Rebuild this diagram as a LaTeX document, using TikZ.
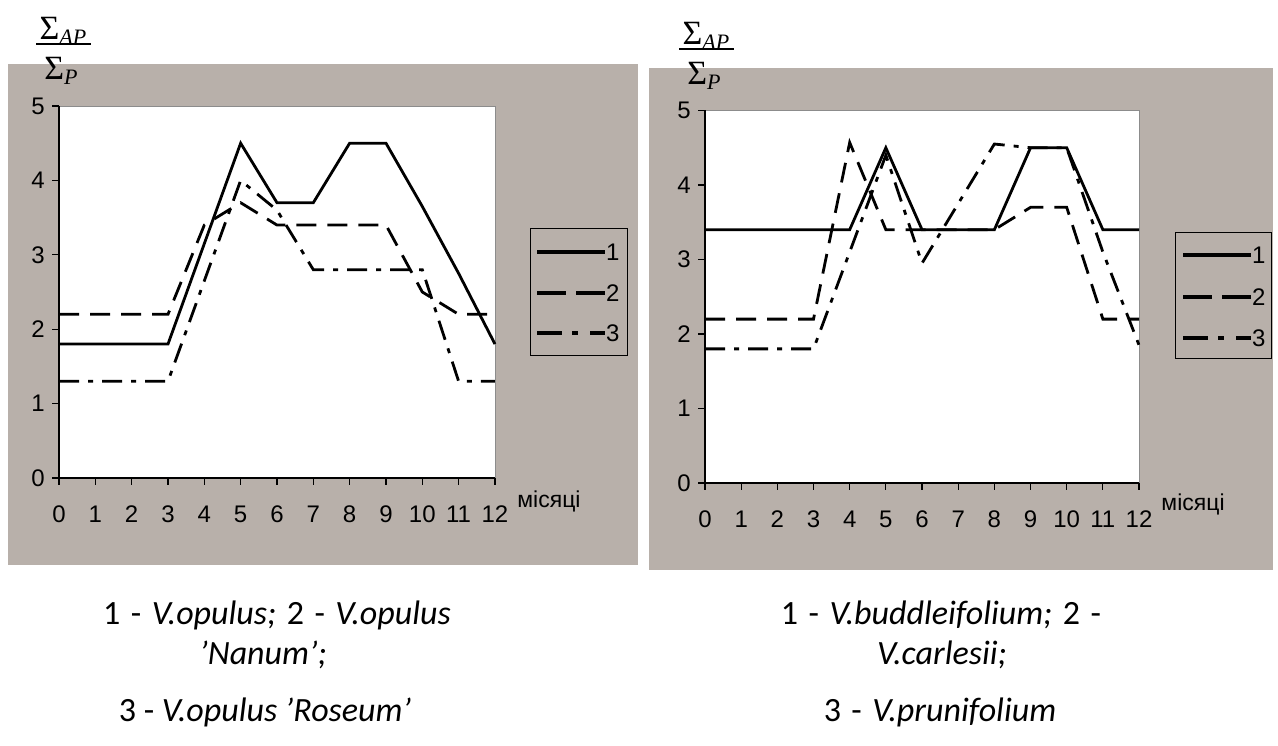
\documentclass[tikz,border=0pt]{standalone}
\usepackage{fontspec}
\setmainfont{Liberation Sans}
\newfontfamily\capfont{Carlito}
\newfontfamily\sigfont{Liberation Serif}
\definecolor{panel}{RGB}{184,176,170}
\newcommand\capsetup{\capfont\fontsize{34}{40}\selectfont\spaceskip=10.5pt\relax}
\newcommand\bigsig[1]{{\sigfont\fontsize{34}{34}\selectfont Σ}{\sigfont\itshape\fontsize{22}{22}\selectfont\raisebox{-5pt}{#1}}}
\begin{document}
\begin{tikzpicture}[x=1pt,y=-1pt,
  serA/.style={line width=2.8pt, line join=miter},
  serB/.style={line width=2.8pt, dash pattern=on 20pt off 11pt},
  serC/.style={line width=2.8pt, dash pattern=on 20pt off 9pt on 5pt off 9pt},
  lgA/.style={line width=3.4pt},
  lgB/.style={line width=3.4pt, dash pattern=on 29pt off 10pt},
  lgC/.style={line width=3.4pt, dash pattern=on 25pt off 10pt on 6pt off 12pt},
  lbl/.style={inner sep=0pt, font=\fontsize{24}{24}\selectfont},
  mlbl/.style={inner sep=0pt, font=\fontsize{23}{23}\selectfont},
  captext/.style={inner sep=0pt, font=\capsetup},
  sigma/.style={inner sep=0pt},
  barln/.style={line width=1.4pt},
  axisln/.style={line width=1.6pt},
  tickln/.style={line width=1.2pt},
  frameln/.style={line width=0.8pt, black!45},
  legbox/.style={draw, line width=0.9pt, inner sep=0pt, anchor=north west}
]
\useasboundingbox (0,0) rectangle (1278,746);
\fill[white] (0,0) rectangle (1278,746);
% panels
\fill[panel] (8,64) rectangle (638,565);
\fill[panel] (649,68) rectangle (1273,570);

% ---------- left chart ----------
\begin{scope}[shift={(59,478)}, x=36.33pt, y=74.4pt]
  \fill[white] (0,0) rectangle (12,5);
  \draw[frameln] (0,5) -- (12,5) -- (12,0);
  \draw[axisln] (0,5) -- (0,0) -- (12,0);
  \foreach \i in {0,...,12} {
    \draw[tickln] (\i,0) -- ++(0,-7pt);
    \node[lbl] (xl\i) at (\i,0) [yshift=-36pt] {\i};
  }
  \foreach \k in {0,...,5} {
    \draw[tickln] (0,\k) -- ++(-7pt,0);
    \node[lbl, anchor=east] (yl\k) at (0,\k) [xshift=-14pt] {\k};
  }
  \node[mlbl] (monthL) at (12,0) [xshift=54pt, yshift=-23pt] {місяці};
  \draw[serA] plot coordinates {(0,1.8)(1,1.8)(2,1.8)(3,1.8)(4,3.15)(5,4.5)(6,3.7)(7,3.7)(8,4.5)(9,4.5)(10,3.65)(11,2.75)(12,1.8)};
  \draw[serB] plot coordinates {(0,2.2)(1,2.2)(2,2.2)(3,2.2)(4,3.4)(5,3.7)(6,3.4)(7,3.4)(8,3.4)(9,3.4)(10,2.5)(11,2.2)(12,2.2)};
  \draw[serC] plot coordinates {(0,1.3)(1,1.3)(2,1.3)(3,1.3)(4,2.65)(5,4.0)(6,3.6)(7,2.8)(8,2.8)(9,2.8)(10,2.8)(11,1.3)(12,1.3)};
\end{scope}
% fraction label left
\node[sigma] (numL) at (63,31) {\bigsig{AP}};
\node[sigma] (denL) at (61,71) {\bigsig{P}};
\coordinate (barLa) at (36,44);
\coordinate (barLb) at (91,44);
\draw[barln] (barLa) -- (barLb);
% legend left
\node[legbox, minimum width=97pt, minimum height=127pt] (legL) at (530,228) {};
\draw[lgA] (537,252) -- (605,252);
\draw[lgB] (537,293) -- (605,293);
\draw[lgC] (537,333) -- (605,333);
\node[lbl, anchor=west] (legL1) at (606,252) {1};
\node[lbl, anchor=west] (legL2) at (606,293) {2};
\node[lbl, anchor=west] (legL3) at (606,333) {3};

% ---------- right chart ----------
\begin{scope}[shift={(705,483)}, x=36.17pt, y=74.5pt]
  \fill[white] (0,0) rectangle (12,5);
  \draw[frameln] (0,5) -- (12,5) -- (12,0);
  \draw[axisln] (0,5) -- (0,0) -- (12,0);
  \foreach \i in {0,...,12} {
    \draw[tickln] (\i,0) -- ++(0,-7pt);
    \node[lbl] (xr\i) at (\i,0) [yshift=-36pt] {\i};
  }
  \foreach \k in {0,...,5} {
    \draw[tickln] (0,\k) -- ++(-7pt,0);
    \node[lbl, anchor=east] (yr\k) at (0,\k) [xshift=-14pt] {\k};
  }
  \node[mlbl] (monthR) at (12,0) [xshift=54pt, yshift=-21pt] {місяці};
  \draw[serA] plot coordinates {(0,3.4)(1,3.4)(2,3.4)(3,3.4)(4,3.4)(5,4.5)(6,3.4)(7,3.4)(8,3.4)(9,4.5)(10,4.5)(11,3.4)(12,3.4)};
  \draw[serB] plot coordinates {(0,2.2)(1,2.2)(2,2.2)(3,2.2)(4,4.57)(5,3.4)(6,3.4)(7,3.4)(8,3.4)(9,3.7)(10,3.7)(11,2.2)(12,2.2)};
  \draw[serC] plot coordinates {(0,1.8)(1,1.8)(2,1.8)(3,1.8)(4,3.1)(5,4.4)(6,2.95)(7,3.75)(8,4.55)(9,4.5)(10,4.5)(11,3.1)(12,1.85)};
\end{scope}
% fraction label right
\node[sigma] (numR) at (706,36) {\bigsig{AP}};
\node[sigma] (denR) at (704,76) {\bigsig{P}};
\coordinate (barRa) at (679,49);
\coordinate (barRb) at (734,49);
\draw[barln] (barRa) -- (barRb);
% legend right
\node[legbox, minimum width=96pt, minimum height=126pt] (legR) at (1175,232) {};
\draw[lgA] (1183,255) -- (1251,255);
\draw[lgB] (1183,297) -- (1251,297);
\draw[lgC] (1183,338) -- (1251,338);
\node[lbl, anchor=west] (legR1) at (1252,255) {1};
\node[lbl, anchor=west] (legR2) at (1252,297) {2};
\node[lbl, anchor=west] (legR3) at (1252,338) {3};

% ---------- captions ----------
\node[captext] (capL1) at (277,615) {1 - \textit{V.opulus;} 2 - \textit{V.opulus}};
\node[captext] (capL2) at (263,655) {\textit{’Nanum’;}};
\node[captext] (capL3) at (265,712) {\spaceskip=0pt 3 - \textit{V.opulus ’Roseum’}};
\node[captext] (capR1) at (941,615) {1 - \textit{V.buddleifolium;} 2 -};
\node[captext] (capR2) at (942,655) {\textit{V.carlesii;}};
\node[captext] (capR3) at (940,712) {3 - \textit{V.prunifolium}};
\end{tikzpicture}
\end{document}
